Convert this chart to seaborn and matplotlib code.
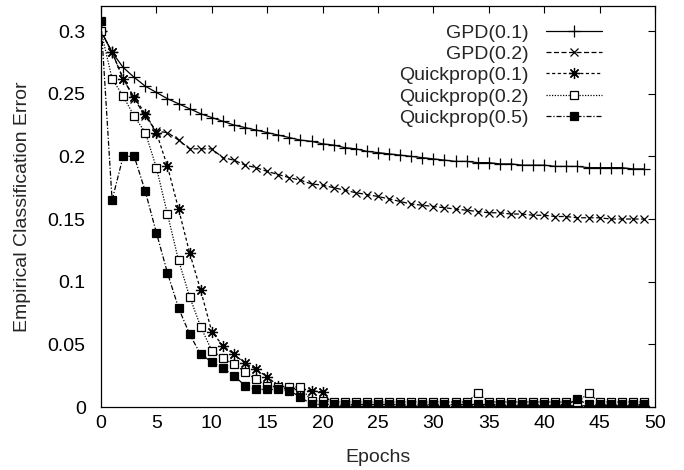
import numpy as np
import pandas as pd
import matplotlib
matplotlib.use('Agg')
import matplotlib.pyplot as plt
import seaborn as sns

sns.set_theme(style='white')
plt.rcParams['font.family'] = ['Liberation Sans', 'DejaVu Sans']

# ── data ──────────────────────────────────────────────────────
epochs = list(range(50))

gpd_01 = [0.300, 0.283, 0.271, 0.263, 0.256, 0.251, 0.246, 0.242, 0.238, 0.234,
          0.231, 0.228, 0.225, 0.223, 0.221, 0.219, 0.217, 0.215, 0.213, 0.212,
          0.210, 0.209, 0.207, 0.206, 0.204, 0.203, 0.202, 0.201, 0.200, 0.199,
          0.198, 0.197, 0.196, 0.196, 0.195, 0.195, 0.194, 0.194, 0.193, 0.193,
          0.193, 0.192, 0.192, 0.192, 0.191, 0.191, 0.191, 0.191, 0.190, 0.190]

gpd_02 = [0.300, 0.283, 0.262, 0.246, 0.232, 0.220, 0.219, 0.213, 0.206, 0.206,
          0.206, 0.199, 0.197, 0.193, 0.191, 0.188, 0.1855, 0.183, 0.181, 0.178,
          0.177, 0.175, 0.173, 0.171, 0.1695, 0.168, 0.166, 0.164, 0.162, 0.161,
          0.160, 0.159, 0.158, 0.157, 0.156, 0.155, 0.155, 0.154, 0.154, 0.153,
          0.153, 0.152, 0.152, 0.151, 0.151, 0.151, 0.150, 0.150, 0.150, 0.150]

qp_01 = [0.300, 0.283, 0.262, 0.247, 0.234, 0.219, 0.192, 0.158, 0.123, 0.093,
         0.060, 0.049, 0.042, 0.035, 0.030, 0.024, 0.017, 0.015, 0.014, 0.013,
         0.012, 0.001, 0.001, 0.001, 0.001, 0.001, 0.001, 0.001, 0.001, 0.001,
         0.001, 0.001, 0.001, 0.001, 0.001, 0.001, 0.001, 0.001, 0.001, 0.001,
         0.001, 0.001, 0.001, 0.001, 0.001, 0.001, 0.001, 0.001, 0.001, 0.001]

qp_02 = [0.300, 0.262, 0.248, 0.232, 0.219, 0.191, 0.154, 0.117, 0.088, 0.064,
         0.045, 0.039, 0.034, 0.028, 0.022, 0.017, 0.016, 0.016, 0.016, 0.005,
         0.005, 0.004, 0.004, 0.004, 0.004, 0.004, 0.004, 0.004, 0.004, 0.004,
         0.004, 0.004, 0.004, 0.004, 0.011, 0.004, 0.004, 0.004, 0.004, 0.004,
         0.004, 0.004, 0.004, 0.004, 0.011, 0.004, 0.004, 0.004, 0.004, 0.004]

qp_05 = [0.308, 0.165, 0.200, 0.200, 0.172, 0.139, 0.107, 0.079, 0.058, 0.042,
         0.036, 0.031, 0.025, 0.017, 0.014, 0.014, 0.014, 0.013, 0.008, 0.002,
         0.002, 0.002, 0.002, 0.002, 0.002, 0.002, 0.002, 0.002, 0.002, 0.002,
         0.002, 0.002, 0.002, 0.002, 0.002, 0.002, 0.002, 0.002, 0.002, 0.002,
         0.002, 0.002, 0.002, 0.006, 0.002, 0.002, 0.002, 0.002, 0.002, 0.002]

labels = ['GPD(0.1)', 'GPD(0.2)', 'Quickprop(0.1)', 'Quickprop(0.2)', 'Quickprop(0.5)']
series = [gpd_01, gpd_02, qp_01, qp_02, qp_05]

x_ticks = [0, 5, 10, 15, 20, 25, 30, 35, 40, 45, 50]
y_ticks = [0, 0.05, 0.1, 0.15, 0.2, 0.25, 0.3]
y_ticklabels = ['0', '0.05', '0.1', '0.15', '0.2', '0.25', '0.3']

# ── styles (gnuplot look) ─────────────────────────────────────
styles = [
    dict(marker='+', ls='-', ms=8, mfc='black'),
    dict(marker='x', ls=(0, (4, 2)), ms=6, mfc='black'),
    dict(marker=(8, 2, 0), ls=(0, (2.5, 2)), ms=8, mfc='black'),
    dict(marker='s', ls=(0, (1, 1.2)), ms=6, mfc='white'),
    dict(marker='s', ls=(0, (4, 1.5, 1, 1.5)), ms=6, mfc='black'),
]

fig = plt.figure(figsize=(6.84, 4.70), dpi=100)
ax = fig.add_axes([101 / 684, 1 - 407 / 470, 554 / 684, 401 / 470])

for lab, vals, st in zip(labels, series, styles):
    df = pd.DataFrame({'epoch': epochs, 'err': vals})
    sns.lineplot(data=df, x='epoch', y='err', ax=ax, color='black', lw=0.9,
                 marker=st['marker'], linestyle=st['ls'], markersize=st['ms'],
                 markerfacecolor=st['mfc'], markeredgecolor='black',
                 markeredgewidth=0.9, label=lab)

ax.set_xlim(0, 50)
ax.set_ylim(0, 0.32)
ax.set_xticks(x_ticks)
ax.set_xticklabels([str(t) for t in x_ticks])
ax.set_yticks(y_ticks)
ax.set_yticklabels(y_ticklabels)
ax.tick_params(direction='in', top=True, right=True, length=5, width=0.8,
               labelsize=14, colors='black')
ax.tick_params(axis='x', pad=6)
ax.tick_params(axis='y', pad=11)
for s in ax.spines.values():
    s.set_color('black')
    s.set_linewidth(0.9)

ax.set_xlabel('Epochs', fontsize=14, labelpad=12)
ax.set_ylabel('Empirical Classification Error', fontsize=14, labelpad=12)

leg = ax.legend(loc='upper right', bbox_to_anchor=(0.905, 0.955), frameon=False,
                markerfirst=False, fontsize=14, handlelength=2.9,
                handletextpad=0.9, labelspacing=0.19, borderpad=0,
                borderaxespad=0)

fig.savefig('out.png', dpi=100)
plt.close(fig)
